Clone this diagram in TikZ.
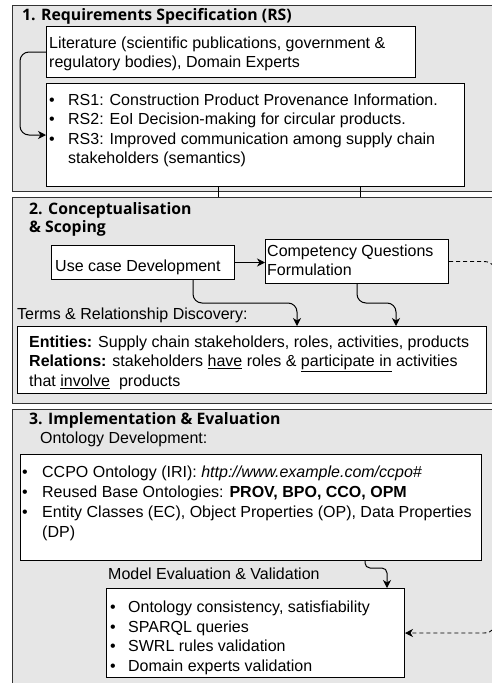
\documentclass[tikz,border=0pt]{standalone}
\usepackage{fontspec}
\setmainfont{Liberation Sans}
\newfontfamily\titlefont{Open Sans}
\usetikzlibrary{arrows.meta}
\definecolor{panelfill}{HTML}{E6E6E6}
\definecolor{paneldraw}{HTML}{333333}
\newcommand\bli[2]{\makebox[#1][l]{\textbullet}#2}
\begin{document}
\begin{tikzpicture}[x=1pt,y=-1pt,
  panel/.style={draw=paneldraw, line width=1.3pt, fill=panelfill},
  box/.style={draw=black, line width=1pt, fill=white, anchor=north west, inner sep=0pt},
  txt/.style={inner sep=0pt, align=left, font=\fontsize{16}{19.5}\selectfont},
  ttl/.style={anchor=base west, inner sep=0pt, align=left, font=\titlefont\bfseries\fontsize{15.8}{17.5}\selectfont},
  arr/.style={-{Stealth[length=8pt,width=8pt,inset=2.5pt]}, line width=1pt, rounded corners=9pt},
  dsh/.style={-{Stealth[length=8pt,width=8pt,inset=2.5pt]}, line width=0.9pt, dash pattern=on 4pt off 3pt, rounded corners=14pt},
  tick/.style={line width=0.8pt, draw=black}
]
\useasboundingbox (0,0) rectangle (491,683);
% panels
\node[panel, anchor=north west, minimum width=493, minimum height=185.5, inner sep=0pt] (p1) at (12,5) {};
\node[panel, anchor=north west, minimum width=493, minimum height=206, inner sep=0pt] (p2) at (12,197) {};
\node[panel, anchor=north west, minimum width=493, minimum height=290, inner sep=0pt] (p3) at (12,409) {};
% titles
\node[ttl] (t1) at (22,20) {1. Requirements Specification (RS)};
\node[ttl] (t2) at (29,232) {2. Conceptualisation\\\& Scoping};
\node[ttl] (t3) at (29,424) {3. Implementation \& Evaluation};
% panel 1
\node[box, minimum width=369, minimum height=51] (lit) at (46,26) {};
\node[txt, anchor=north west] (littxt) at (49,34.4) {\strut Literature (scientific publications, government \&\\regulatory bodies), Domain Experts};
\node[box, minimum width=418, minimum height=103] (rs) at (46,83) {};
\node[txt, anchor=north west] (rstxt) at (49,91.4) {\strut\bli{19pt}{RS1: Construction Product Provenance Information.}\\
\bli{19pt}{RS2: EoI Decision-making for circular products.}\\
\bli{19pt}{RS3: Improved communication among supply chain}\\
\hspace*{19pt}stakeholders (semantics)};
\draw[arr] (lit.west) -- ++(-26,0) |- (rs.west);
% ticks between panels
\coordinate (tka) at (218,0);
\coordinate (tkb) at (360,0);
\draw[tick] (rs.south -| tka) -- (p2.north -| tka);
\draw[tick] (rs.south -| tkb) -- (p2.north -| tkb);
% panel 2
\node[box, minimum width=183, minimum height=34] (uc) at (51,245) {};
\node[txt, anchor=base west] (uctxt) at (55,271) {Use case Development};
\node[box, minimum width=183, minimum height=44] (cq) at (265,239) {};
\node[txt, anchor=north west] (cqtxt) at (267,242.4) {\strut Competency Questions\\Formulation};
\node[txt, anchor=base west] (terms) at (17,319) {Terms \& Relationship Discovery:};
\node[box, minimum width=469, minimum height=67] (ent) at (17,326) {};
\node[txt, anchor=north west] (enttxt) at (29,333.4) {\strut\textbf{Entities:} Supply chain stakeholders, roles, activities, products\\
\textbf{Relations:} stakeholders \underline{have} roles \& \underline{participate in} activities\\
that \underline{involve}\ \ products};
\draw[arr] (uc.east -| uc.east) -- (uc.east -| cq.west);
\coordinate (ucx) at (193,0);
\coordinate (e1x) at (297,0);
\coordinate (cqx) at (357,0);
\coordinate (e2x) at (396,0);
\coordinate (midy) at (0,303);
\draw[arr] (uc.south -| ucx) -- (midy -| ucx) -- (midy -| e1x) -- (ent.north -| e1x);
\draw[arr] (cq.south -| cqx) -- (midy -| cqx) -- (midy -| e2x) -- (ent.north -| e2x);
% panel 3
\node[txt, anchor=base west] (ontdev) at (40,443) {Ontology Development:};
\node[box, minimum width=461, minimum height=106] (ont) at (20,454) {};
\node[txt, anchor=north west, font=\fontsize{16}{20}\selectfont] (onttxt) at (22,463.4) {\strut\bli{20pt}{CCPO Ontology (IRI): \textit{http://www.example.com/ccpo\#}}\\
\bli{20pt}{Reused Base Ontologies: \textbf{PROV, BPO, CCO, OPM}}\\
\bli{20pt}{Entity Classes (EC), Object Properties (OP), Data Properties}\\
\hspace*{20pt}(DP)};
\node[txt, anchor=base west] (modev) at (108,579) {Model Evaluation \& Validation};
\node[box, minimum width=298, minimum height=89] (model) at (106,588) {};
\node[txt, anchor=north west, font=\fontsize{16}{19.7}\selectfont] (modtxt) at (110,598.4) {\strut\bli{18pt}{Ontology consistency, satisfiability}\\
\bli{18pt}{SPARQL queries}\\
\bli{18pt}{SWRL rules validation}\\
\bli{18pt}{Domain experts validation}};
\coordinate (ox) at (365,0);
\coordinate (mx) at (387,0);
\coordinate (my) at (0,568);
\draw[arr, rounded corners=5pt] (ont.south -| ox) -- (my -| ox) -- (my -| mx) -- (model.north -| mx);
% dashed feedback
\coordinate (dr) at (498,0);
\draw[dsh] (cq.east) -- (cq.east -| dr) -- (model.east -| dr) -- (model.east);
\end{tikzpicture}
\end{document}
